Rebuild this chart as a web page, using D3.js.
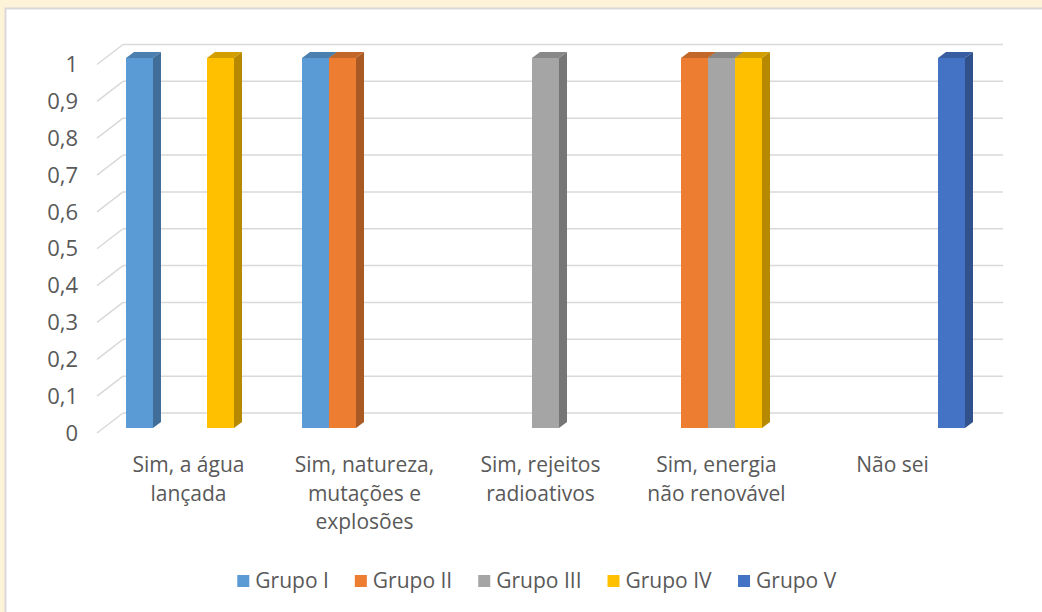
<!DOCTYPE html>
<html>
<head>
<meta charset="utf-8">
<script src="https://cdn.jsdelivr.net/npm/d3@7"></script>
<style>
  html, body { margin: 0; padding: 0; background: #fdf3d9; }
  svg { display: block; font-family: "Open Sans", sans-serif; }
</style>
</head>
<body>
<div id="chart"></div>
<script>
// categories and series
const categories = [
  "Sim, a água lançada",
  "Sim, natureza, mutações e explosões",
  "Sim, rejeitos radioativos",
  "Sim, energia não renovável",
  "Não sei"
];
// line breaks used under the axis
const categoryLines = [
  ["Sim, a água", "lançada"],
  ["Sim, natureza,", "mutações e", "explosões"],
  ["Sim, rejeitos", "radioativos"],
  ["Sim, energia", "não renovável"],
  ["Não sei"]
];
const seriesNames = ["Grupo I", "Grupo II", "Grupo III", "Grupo IV", "Grupo V"];
const grupoI   = [1, 1, 0, 0, 0];
const grupoII  = [0, 1, 0, 1, 0];
const grupoIII = [0, 0, 1, 1, 0];
const grupoIV  = [1, 0, 0, 1, 0];
const grupoV   = [0, 0, 0, 0, 1];
const seriesColors = ["#5b9bd5", "#ed7d31", "#a5a5a5", "#ffc000", "#4472c4"];
const yTicks = [0, 0.1, 0.2, 0.3, 0.4, 0.5, 0.6, 0.7, 0.8, 0.9, 1];

const seriesValues = [grupoI, grupoII, grupoIII, grupoIV, grupoV];

const width = 1042, height = 612;
const depth = {dx: 8, dy: -6};     // bar depth
const sideDx = 26, sideDy = -20;   // left wall offset

const svg = d3.select("#chart").append("svg")
  .attr("width", width)
  .attr("height", height);

// chart panel
svg.append("rect")
  .attr("x", 5.5).attr("y", 8.5)
  .attr("width", width).attr("height", height)
  .attr("fill", "#fff")
  .attr("stroke", "#d9d9d9")
  .attr("stroke-width", 2);

// back wall scale and front scale
const yWall = d3.scaleLinear().domain([0, 1]).range([413, 44.5]);
const yFront = d3.scaleLinear().domain([0, 1]).range([428, 58]);
const wallX = [123, 1003];

const x0 = d3.scaleBand()
  .domain(categories)
  .range([105.5, 985.5])
  .paddingInner(0.233)
  .paddingOuter(0.1165);
const x1 = d3.scaleBand()
  .domain(seriesNames)
  .range([0, x0.bandwidth()]);

// gridlines on back wall + side wall
const grid = svg.append("g").attr("stroke", "#d9d9d9").attr("stroke-width", 1.5).attr("fill", "none");
grid.selectAll("line.h")
  .data(yTicks)
  .join("line")
  .attr("class", "h")
  .attr("x1", wallX[0]).attr("x2", wallX[1])
  .attr("y1", d => yWall(d)).attr("y2", d => yWall(d));
grid.selectAll("line.d")
  .data(yTicks)
  .join("line")
  .attr("class", "d")
  .attr("x1", wallX[0] - sideDx).attr("x2", wallX[0])
  .attr("y1", d => yWall(d) - sideDy).attr("y2", d => yWall(d));

// tick labels
svg.append("g")
  .selectAll("text")
  .data(yTicks)
  .join("text")
  .attr("x", 78)
  .attr("y", d => yWall(d) - sideDy)
  .attr("dy", "0.35em")
  .attr("text-anchor", "end")
  .attr("fill", "#595959")
  .attr("font-size", 22)
  .text(d => String(d).replace(".", ","));

// bars
const bars = [];
categories.forEach((c, ci) => {
  seriesNames.forEach((s, si) => {
    const v = seriesValues[si][ci];
    if (v > 0) bars.push({cat: c, series: s, value: v, color: seriesColors[si]});
  });
});

const barG = svg.append("g");
bars.forEach(b => {
  const x = x0(b.cat) + x1(b.series);
  const w = x1.bandwidth();
  const yt = yFront(b.value), yb = yFront(0);
  const base = d3.color(b.color);
  const g = barG.append("g");
  g.append("rect")
    .attr("x", x).attr("y", yt)
    .attr("width", w).attr("height", yb - yt)
    .attr("fill", b.color);
  g.append("polygon")
    .attr("points", [[x, yt], [x + depth.dx, yt + depth.dy], [x + w + depth.dx, yt + depth.dy], [x + w, yt]].join(" "))
    .attr("fill", base.darker(0.55));
  g.append("polygon")
    .attr("points", [[x + w, yt], [x + w + depth.dx, yt + depth.dy], [x + w + depth.dx, yb + depth.dy], [x + w, yb]].join(" "))
    .attr("fill", base.darker(0.95));
});

// category labels
const lab = svg.append("g")
  .attr("fill", "#595959")
  .attr("font-size", 21)
  .attr("text-anchor", "middle");
categories.forEach((c, i) => {
  const cx = x0(c) + x0.bandwidth() / 2 - 5;
  const t = lab.append("text")
    .attr("x", cx)
    .attr("y", 465);
  categoryLines[i].forEach((line, li) => {
    t.append("tspan")
      .attr("x", cx)
      .attr("dy", li === 0 ? "0.35em" : "1.36em")
      .text(line);
  });
});

// legend
const legend = svg.append("g").attr("font-size", 21).attr("fill", "#595959");
const items = legend.selectAll("g")
  .data(seriesNames)
  .join("g");
items.append("rect")
  .attr("width", 12).attr("height", 12)
  .attr("y", -6)
  .attr("fill", (d, i) => seriesColors[i]);
items.append("text")
  .attr("x", 18)
  .attr("dy", "0.35em")
  .text(d => d);
const widths = [];
items.each(function () { widths.push(this.getBBox().width); });
const gap = 26;
const total = d3.sum(widths) + gap * (widths.length - 1);
let lx = 537 - total / 2;
items.each(function (d, i) {
  d3.select(this).attr("transform", `translate(${lx},581)`);
  lx += widths[i] + gap;
});
</script>
</body>
</html>
